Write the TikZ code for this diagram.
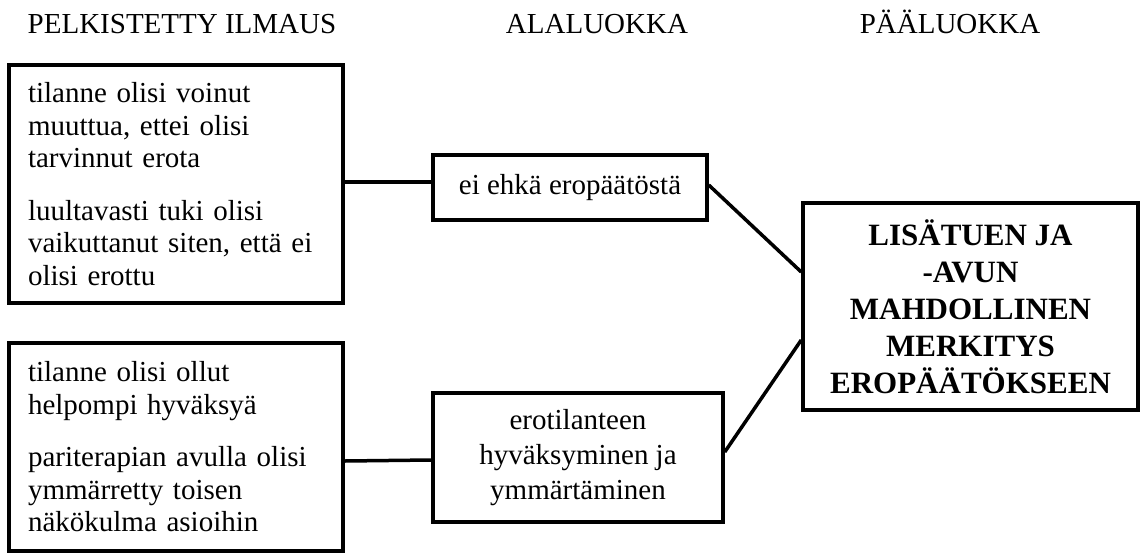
\documentclass[tikz,border=0pt]{standalone}
\usepackage{fontspec}
\setmainfont{Liberation Serif}
\begin{document}
\begin{tikzpicture}[x=1pt,y=-1pt,
  box/.style={draw=black,line width=3.5pt,rectangle,inner sep=0pt,font=\fontsize{29}{32.5}\selectfont},
  conn/.style={line width=3.5pt},
  head/.style={anchor=base,inner sep=0pt,font=\fontsize{29}{32}\selectfont}]
\useasboundingbox (0,0) rectangle (1141,552);
\node[head] (h1) at (182,33) {PELKISTETTY ILMAUS};
\node[head] (h2) at (597,33) {ALALUOKKA};
\node[head] (h3) at (950,33) {PÄÄLUOKKA};

\node[box,minimum width=334pt,minimum height=238pt,text width=296pt,align=left] (A) at (176,184)
 {tilanne olisi voinut\\muuttua, ettei olisi\\tarvinnut erota\\[20pt]luultavasti tuki olisi\\vaikuttanut siten, että ei\\olisi erottu};
\node[box,minimum width=334pt,minimum height=208pt,text width=296pt,align=left] (B) at (176,447)
 {tilanne olisi ollut\\helpompi hyväksyä\\[20pt]pariterapian avulla olisi\\ymmärretty toisen\\näkökulma asioihin};
\node[box,minimum width=274pt,minimum height=65pt,align=center] (C) at (570,187.5) {ei ehkä eropäätöstä};
\node[box,minimum width=290pt,minimum height=129pt,align=center,font=\fontsize{29}{35}\selectfont] (D) at (578,457.5)
 {erotilanteen\\hyväksyminen ja\\ymmärtäminen};
\node[box,minimum width=335pt,minimum height=207pt,align=center,font=\fontsize{31}{37}\selectfont\bfseries] (E) at (970.5,306.5)
 {LISÄTUEN JA\\-AVUN\\MAHDOLLINEN\\MERKITYS\\EROPÄÄTÖKSEEN};

\draw[conn] ([yshift=2pt]A.east) -- ([yshift=5.5pt]C.west);
\draw[conn] ([yshift=2.5pt]C.east) -- ([yshift=34.5pt]E.west);
\draw[conn] ([yshift=-14pt]B.east) -- ([yshift=-2.5pt]D.west);
\draw[conn] ([yshift=5.5pt]D.east) -- ([yshift=-33.5pt]E.west);
\end{tikzpicture}
\end{document}
